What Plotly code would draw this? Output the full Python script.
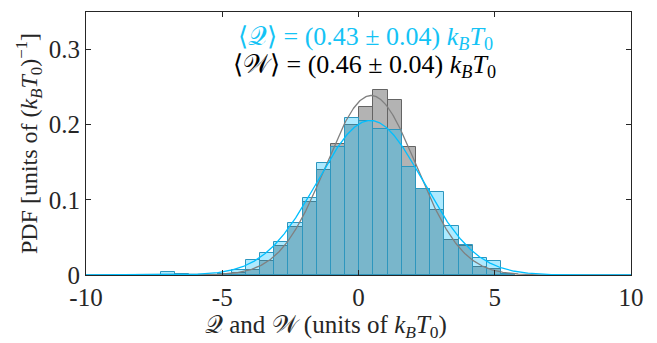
import numpy as np
import plotly.graph_objects as go

# ---- data ----
bin_start = -7.25
bin_width = 0.52
pdf_Q = [0.004, 0.001, 0.0, 0.0, 0.002, 0.006, 0.020, 0.029, 0.044, 0.069,
         0.102, 0.149, 0.170, 0.209, 0.205, 0.194, 0.193, 0.144, 0.115, 0.110,
         0.065, 0.040, 0.022, 0.019, 0.002]
pdf_W = [0.0, 0.0, 0.0, 0.0, 0.001, 0.003, 0.007, 0.019, 0.039, 0.064,
         0.097, 0.140, 0.174, 0.200, 0.224, 0.246, 0.233, 0.171, 0.114, 0.086,
         0.047, 0.038, 0.010, 0.0075, 0.001]
# fitted normal parameters
mu_Q, sigma_Q = 0.43, 1.94
mu_W, sigma_W = 0.46, 1.67
x_ticks = [-10, -5, 0, 5, 10]
x_ticklabels = ["-10", "-5", "0", "5", "10"]
y_ticks = [0, 0.1, 0.2, 0.3]
y_ticklabels = ["0", "0.1", "0.2", "0.3"]
kBT0 = "<i>k</i><sub><i>B</i></sub><i>T</i><sub>0</sub>"
label_Q = "⟨𝒬⟩ = (0.43 ± 0.04) " + kBT0
label_W = "⟨𝒲⟩ = (0.46 ± 0.04) " + kBT0
x_title = "𝒬 and 𝒲 (units of " + kBT0 + ")"
y_title = "PDF [units of (" + kBT0 + ")<sup>−1</sup>]"

centers = [bin_start + bin_width * (i + 0.5) for i in range(len(pdf_Q))]

FONT = "Liberation Serif, Times New Roman, serif"
AX = "#262626"
BLUE = "rgb(0,191,255)"

xs = np.linspace(-10, 10, 801)
def npdf(x, m, s):
    return np.exp(-0.5 * ((x - m) / s) ** 2) / (s * np.sqrt(2 * np.pi))

fig = go.Figure()
fig.add_trace(go.Bar(x=centers, y=pdf_W, width=bin_width,
                     marker=dict(color="rgba(128,128,128,0.6)",
                                 line=dict(color="rgb(100,100,100)", width=1)),
                     showlegend=False))
fig.add_trace(go.Bar(x=centers, y=pdf_Q, width=bin_width,
                     marker=dict(color="rgba(0,191,255,0.32)",
                                 line=dict(color="rgb(45,150,190)", width=1)),
                     showlegend=False))
fig.add_trace(go.Scatter(x=xs, y=npdf(xs, mu_W, sigma_W), mode="lines",
                         line=dict(color="rgb(128,128,128)", width=1.3),
                         showlegend=False))
fig.add_trace(go.Scatter(x=xs, y=npdf(xs, mu_Q, sigma_Q), mode="lines",
                         line=dict(color=BLUE, width=1.3),
                         showlegend=False))

fig.add_annotation(x=0.27, y=0.316, xref="x", yref="y", text=label_Q,
                   showarrow=False, font=dict(family=FONT, size=26, color="rgb(20,195,245)"))
fig.add_annotation(x=0.22, y=0.278, xref="x", yref="y", text=label_W,
                   showarrow=False, font=dict(family=FONT, size=26, color="black"))
# x-axis title (placed as in the reference, slightly left of centre)
fig.add_annotation(x=0.44, y=-0.195, xref="paper", yref="paper", text=x_title,
                   showarrow=False, xanchor="center", yanchor="middle",
                   font=dict(family=FONT, size=25, color=AX))

fig.update_layout(
    width=657, height=343,
    margin=dict(l=86, r=26, t=12, b=68),
    barmode="overlay", bargap=0,
    plot_bgcolor="white", paper_bgcolor="white",
    font=dict(family=FONT, size=24, color=AX),
)
fig.update_xaxes(range=[-10, 10], tickvals=x_ticks, ticktext=x_ticklabels,
                 ticks="inside", ticklen=5, tickcolor=AX, showline=True,
                 linecolor=AX, linewidth=1, mirror="ticks", showgrid=False,
                 zeroline=False, tickfont=dict(family=FONT, size=25))
fig.update_yaxes(range=[0, 0.35], tickvals=y_ticks, ticktext=y_ticklabels,
                 ticks="inside", ticklen=5, tickcolor=AX, showline=True,
                 linecolor=AX, linewidth=1, mirror="ticks", showgrid=False,
                 zeroline=False, tickfont=dict(family=FONT, size=25),
                 title=dict(text=y_title, font=dict(family=FONT, size=24), standoff=4))

fig.write_html("out.html")
